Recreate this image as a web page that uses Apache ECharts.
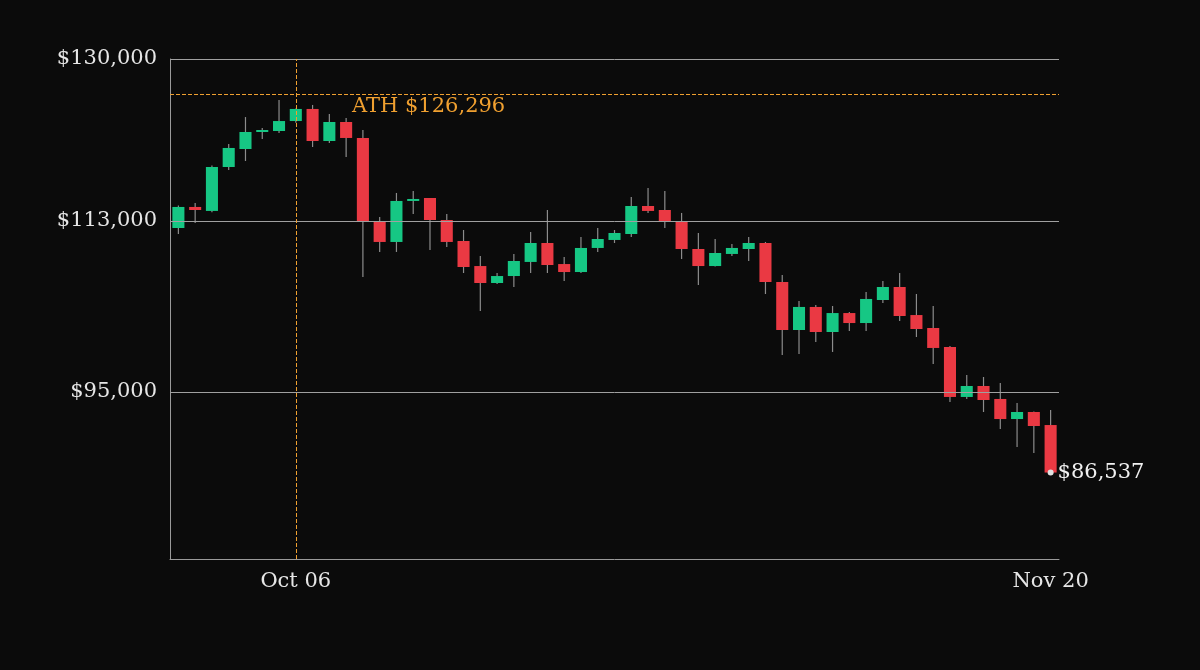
<!DOCTYPE html>
<html>
  <head>
    <meta charset="utf-8" />
    <title>BTC</title>
    <script src="https://cdn.jsdelivr.net/npm/echarts@6/dist/echarts.min.js"></script>
    <style>html,body{margin:0;background:#0b0b0b;}</style>
  </head>
  <body>
    <div id="main" style="width: 1200px;height: 670px;"></div>
    <script type="text/javascript">
      var dates = []
      var start = new Date(Date.UTC(2025, 8, 29))
      var months = ['Jan','Feb','Mar','Apr','May','Jun','Jul','Aug','Sep','Oct','Nov','Dec']
      for (var i = 0; i < 53; i++) {
        var d = new Date(start.getTime() + i * 86400000)
        dates.push(months[d.getUTCMonth()] + ' ' + String(d.getUTCDate()).padStart(2, '0'))
      }
      // [open, close, low, high]
      var ohlc = [
        [112240, 114450, 111610, 114600], [114450, 114130, 112760, 114870],
        [114030, 118650, 113900, 118800], [118650, 120650, 118330, 121070],
        [120540, 122330, 119280, 123900], [122430, 122540, 121590, 122750],
        [122430, 123480, 122220, 125690], [123480, 124750, 123300, 124800],
        [124750, 121380, 120750, 125170], [121380, 123380, 121170, 124220],
        [123380, 121700, 119700, 123800], [121700, 112970, 107090, 122540],
        [112970, 110770, 109720, 113390], [110770, 115080, 109720, 115920],
        [115080, 115290, 113710, 116130], [115390, 113080, 109930, 115400],
        [113080, 110770, 110240, 113710], [110870, 108140, 107510, 112030],
        [108240, 106460, 103520, 109300], [106460, 107190, 106350, 107510],
        [107190, 108770, 106040, 109510], [108670, 110660, 107510, 111820],
        [110660, 108350, 107510, 114130], [108450, 107610, 106670, 109190],
        [107610, 110140, 107500, 111290], [110140, 111080, 109720, 112240],
        [110980, 111710, 110660, 112030], [111610, 114550, 111290, 115500],
        [114550, 114030, 113820, 116440], [114130, 112870, 112240, 116130],
        [112970, 110030, 108980, 113820], [110030, 108240, 106250, 111710],
        [108240, 109610, 108200, 111080], [109510, 110140, 109300, 110560],
        [110030, 110660, 108770, 111290], [110660, 106560, 105300, 110770],
        [106560, 101520, 98890, 107300], [101520, 103940, 99000, 104570],
        [103940, 101310, 100260, 104150], [101310, 103300, 99210, 104040],
        [103300, 102250, 101410, 103400], [102250, 104780, 101410, 105510],
        [104670, 106040, 104360, 106670], [106040, 102990, 102460, 107510],
        [103090, 101620, 100780, 105300], [101730, 99630, 97940, 104040],
        [99730, 94480, 93950, 99840], [94480, 95630, 94270, 96790],
        [95630, 94160, 92900, 96580], [94270, 92160, 91110, 95950],
        [92160, 92900, 89220, 93850], [92900, 91430, 88590, 92950],
        [91530, 86537, 86537, 93110]
      ]
      var yTicks = [95000, 113000, 130000]
      var xLabels = ['Oct 06', 'Nov 20']
      var ath = 126296
      var athDate = 'Oct 06'
      var lastPrice = 86537

      var up = '#16c784', down = '#ea3943', wick = '#8c8c8c'
      var font = 'DejaVu Serif'
      function money(v) { return '$' + Math.round(v).toLocaleString('en-US') }

      var seriesData = ohlc.map(function (c, i) { return [i].concat(c) })

      var myChart = echarts.init(document.getElementById('main'))
      myChart.setOption({
        backgroundColor: '#0b0b0b',
        animation: false,
        grid: { left: 170, right: 141, top: 59, bottom: 111 },
        xAxis: {
          type: 'category',
          data: dates,
          axisLine: { lineStyle: { color: '#9a9a9a' } },
          axisTick: { show: false },
          axisLabel: {
            color: '#e6e6e6', fontFamily: font, fontSize: 21, margin: 12,
            interval: function (i, v) { return xLabels.indexOf(v) >= 0 }
          },
          splitLine: { show: false }
        },
        yAxis: {
          type: 'value',
          min: 77450, max: 130000,
          axisLine: { show: true, lineStyle: { color: '#9a9a9a' } },
          axisTick: { show: false },
          splitLine: { show: false },
          axisLabel: {
            customValues: yTicks,
            color: '#e6e6e6', fontFamily: font, fontSize: 21, margin: 13,
            formatter: money
          }
        },
        series: [
          {
            type: 'custom',
            data: seriesData,
            encode: { x: 0, y: [1, 2, 3, 4] },
            renderItem: function (params, api) {
              var x = api.value(0)
              var o = api.coord([x, api.value(1)])
              var c = api.coord([x, api.value(2)])
              var lo = api.coord([x, api.value(3)])
              var hi = api.coord([x, api.value(4)])
              var w = api.size([1, 0])[0] * 0.72
              var color = api.value(2) >= api.value(1) ? up : down
              var top = Math.min(o[1], c[1]), h = Math.max(Math.abs(o[1] - c[1]), 2)
              return {
                type: 'group',
                children: [
                  { type: 'line', shape: { x1: o[0], y1: hi[1], x2: o[0], y2: lo[1] },
                    style: { stroke: wick, lineWidth: 1.2 } },
                  { type: 'rect', shape: { x: o[0] - w / 2, y: top, width: w, height: h },
                    style: { fill: color } }
                ]
              }
            },
            z: 3
          },
          {
            type: 'line',
            data: [],
            silent: true,
            markLine: {
              symbol: 'none',
              silent: true,
              label: { show: false },
              lineStyle: { color: '#a0a0a0', type: 'solid', width: 1 },
              data: yTicks.map(function (v) { return { yAxis: v } })
            }
          },
          {
            type: 'line',
            data: [],
            silent: true,
            markLine: {
              symbol: 'none',
              silent: true,
              lineStyle: { color: '#f0a030', type: 'dashed', width: 1 },
              data: [
                { yAxis: ath, label: { show: false } },
                { xAxis: athDate, label: { show: false } }
              ]
            }
          },
          {
            type: 'line',
            data: [],
            markPoint: {
              symbol: 'circle',
              symbolSize: 6,
              itemStyle: { color: '#e0e0e0' },
              data: [{ coord: [dates[dates.length - 1], lastPrice] }],
              label: {
                show: true, position: 'right', distance: 4,
                color: '#f0f0f0', fontFamily: font, fontSize: 21,
                formatter: money(lastPrice)
              }
            },
            z: 5
          }
        ],
        graphic: [
          {
            type: 'text', left: 352, top: 96,
            style: { text: 'ATH ' + money(ath), fill: '#f0a030', font: '21px "DejaVu Serif"' }
          }
        ]
      })
    </script>
  </body>
</html>
